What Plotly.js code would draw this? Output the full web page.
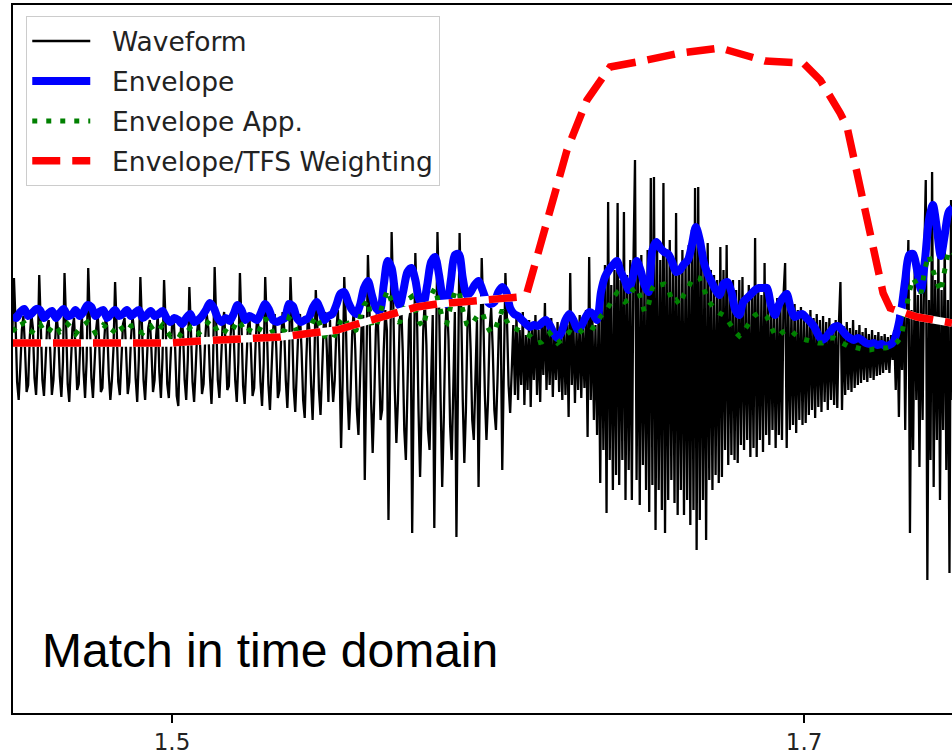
<!DOCTYPE html>
<html><head><meta charset="utf-8">
<script src="https://cdn.plot.ly/plotly-3.0.1.min.js"></script>
<style>html,body{margin:0;padding:0;background:#fff;} #chart{width:952px;height:756px;}</style>
</head><body><div id="chart"></div>
<script>
// sampled signals: start time (s) and sample intervals (s)
const T_START = 1.4495;
const WAVE_DT = 0.0005;
const ENV_DT = 0.00125;

// Waveform amplitude (arbitrary units)
const waveform = [
10,
62,18,-42,-60,-28,10,24,-8,-52,-45,2,26,12,-38,-55,-18,
65,14,-40,-56,-22,14,20,-12,-55,-40,-2,24,8,-36,-57,-22,
67,16,-44,-62,-25,12,22,-10,-50,-44,0,25,-30,-58,-20,
72,20,-38,-58,-24,10,26,-6,-52,-48,-4,22,14,-34,-60,-40,-8,
58,12,-42,-55,-20,16,22,-12,-54,-42,0,24,10,-38,-62,-20,
63,15,-40,-60,-26,12,20,-10,-52,-40,4,26,-32,-58,-18,
60,16,-44,-58,-22,14,24,-8,-56,-66,-10,22,8,-40,-60,-20,
53,10,-42,-62,-28,10,22,-12,-54,-44,0,26,12,-36,-64,-24,
73,18,-40,-58,-24,14,28,-6,-50,-46,2,24,10,-40,-62,-22,
67,14,-46,-64,-26,12,24,-10,-56,-48,0,25,8,-42,-66,-24,
63,16,-44,-70,-30,10,26,-8,-58,-50,-2,28,12,-40,-68,-26,
63,18,-48,-72,-30,12,26,-10,-60,-78,-20,24,10,-44,-80,-30,
50,14,-50,-75,-32,14,28,-10,-62,
20,-30,-62,-40,10,30,-20,-108,-40,63,
20,-50,-90,-55,5,30,-10,-70,-95,-40,
15,25,-140,-30,85,30,-60,-113,-60,10,
35,-20,-80,-70,-10,30,10,-180,-40,108,
40,-50,-103,-60,15,38,-10,-90,-120,-50,
20,30,-193,-40,87,30,-70,-137,-70,10,
40,-5,-90,-110,-40,25,-188,-30,108,40,
-60,-147,-80,10,42,0,-85,-120,-50,28,
-197,-40,107,35,-60,-123,-70,15,38,-10,
-80,-100,-40,20,-147,-30,82,25,-55,-100,
-60,10,32,-10,-70,-90,-40,20,25,-130,
-30,67,20,-45,-73,
-30,15,-55,25,-60,10,-45,28,-65,5,
-50,20,-67,15,-40,25,-55,10,-62,20,
-35,37,-50,15,-45,22,-57,8,-40,18,
-52,12,-60,20,
-55,15,-77,67,-45,20,-63,10,-50,25,
-58,12,-48,30,-97,83,-60,28,-80,15,
-95,35,
-143,60,-110,75,-173,138,-120,55,-150,70,
-135,137,-145,60,-120,128,-160,65,-130,80,
-160,75,180,-140,70,-165,85,-125,60,-150,
90,-172,162,-145,163,-190,95,-150,80,-170,
157,-193,85,-160,100,-140,75,-163,127,-175,
70,-150,90,-175,80,-160,95,-185,110,-170,
152,-210,153,-180,100,-160,85,-200,97,-140,
70,-150,65,-135,60,-143,93,
-137,70,-110,95,-125,55,-115,60,-120,50,
-123,60,-105,63,-110,45,-100,55,-117,48,
-108,102,-117,50,-100,45,-112,77,-95,40,
-105,45,-90,35,-108,42,-95,38,-100,45,
77,-108,40,-90,32,-85,36,-93,30,-80,
33,-85,28,-83,25,-75,30,-70,22,-78,
26,-67,20,-72,24,-62,18,-70,22,-60,
16,-65,20,-68,15,58,-70,14,-55,18,
-50,12,-52,20,-48,10,-45,15,-43,8,
-40,12,-42,6,-38,10,-40,5,-36,8,
-35,4,-33,6,-30,3,-33,5,
-20,10,-50,25,-77,30,-30,60,-90,40,
100,-193,30,-110,70,-60,45,-127,50,-80,
80,160,-240,40,-120,168,-147,60,-100,90,
-160,50,-90,100,-130,40,-233,140,-60
];

// Envelope
const envelope = [
25,22,28,31,24,27,31,30,22,26,
29,22,27,31,24,25,30,24,28,35,
33,24,28,30,22,26,30,24,26,30,
24,27,30,22,25,29,24,26,29,22,
18,22,20,16,22,26,18,20,24,30,
37,32,22,18,22,19,26,35,30,20,
24,22,20,28,36,30,20,18,20,22,
36,34,22,18,20,22,32,38,30,20,
24,
26,35,46,48,38,30,26,35,52,59,
45,32,29,55,79,72,45,34,50,68,
72,60,40,36,55,78,83,65,42,36,
60,85,86,62,45,48,55,59,50,40,
36,38,48,53,48,32,
26,24,20,16,13,15,14,17,20,15,7,2,8,20,26,20,11,14,22,28,26,20,
48,63,70,75,79,68,60,50,62,79,
70,55,48,90,98,92,88,86,78,68,
70,76,80,95,113,100,78,66,58,50,
45,
56,58,48,30,25,38,42,46,50,52,
52,52,35,25,35,42,46,32,23,25,
26,22,18,13,5,0,3,8,13,14,
10,5,2,0,2,0,-3,-4,-3,-5,
-4,-6,-5,
-2,10,30,60,85,86,70,50,80,120,135,112,84,105,128,132
];

// Envelope approximation
const envelopeApp = [
12,8,15,17,10,8,14,16,9,7,
13,15,8,10,16,12,6,11,15,18,
14,7,10,15,12,6,11,16,10,8,
14,15,9,7,12,14,8,10,15,9,
4,8,6,3,7,12,5,6,10,15,
20,16,8,5,9,6,12,20,15,7,
10,8,6,14,22,16,7,5,8,10,
22,18,8,4,6,9,18,24,14,4,
2,
0,8,18,23,15,8,10,22,35,40,
14,12,25,40,50,38,22,17,28,40,
43,30,18,13,30,45,52,35,20,17,
35,48,50,30,16,14,20,26,27,15,
8,8,20,30,20,13,
12,10,8,7,4,0,-3,-2,2,7,2,-3,0,5,8,6,5,9,12,14,12,18,
24,28,34,42,47,42,38,40,50,53,
43,28,35,52,57,55,56,52,38,40,
35,46,52,60,63,62,52,40,35,30,
27,
25,20,14,8,4,8,14,20,25,27,
26,23,14,5,4,8,10,10,6,3,
1,0,-1,-2,-3,-3,0,2,2,0,
-3,-5,-7,-7,-8,-9,-10,-10,-9,-9,
-8,-8,-7,
-5,-2,3,25,48,62,55,47,72,85,70,58,48,70,90,87
];

// Envelope/TFS weighting (time in s, value)
const weightTime = [1.4497,1.4994,1.5089,1.5215,1.5342,1.5443,1.5522,1.5576,1.5658,1.5703,
  1.5775,1.5839,1.5924,1.6060,1.6101,1.6123,1.6250,1.6313,1.6386,1.6472,
  1.6608,1.6734,1.6877,1.6997,1.7051,1.7114,1.7136,1.7250,1.7272,1.7358,1.7468];
const weightValue = [-3,-3,-1,1,3,7,10,15,22,27,
  33,36,38,41,43,47,190,240,273,278,
  287,292,279,277,260,227,213,47,32,23,17];

const seriesNames = ['Waveform', 'Envelope', 'Envelope App.', 'Envelope/TFS Weighting'];
const tickVals = [1.5, 1.7];
const tickText = ['1.5', '1.7'];
const noteText = 'Match in time domain';

const waveTime = waveform.map((_, i) => T_START + i * WAVE_DT);
const envTime = envelope.map((_, i) => T_START + i * ENV_DT);
const pad = s => '\u00a0\u00a0' + s;   // gap between legend sample and its label

const traces = [
  {x: waveTime, y: waveform, type: 'scatter', mode: 'lines', name: pad(seriesNames[0]),
   line: {color: '#000000', width: 2.3, simplify: false}, legendgroup: 'a'},
  {x: envTime, y: envelope, type: 'scatter', mode: 'lines', name: pad(seriesNames[1]),
   line: {color: '#0000ff', width: 8, shape: 'spline', smoothing: 0.8, simplify: false}, legendgroup: 'b'},
  {x: envTime, y: envelopeApp, type: 'scatter', mode: 'lines', name: pad(seriesNames[2]),
   line: {color: '#008000', width: 5, dash: '5px,9px', simplify: false}, legendgroup: 'c'},
  {x: weightTime, y: weightValue, type: 'scatter', mode: 'lines', showlegend: false, hoverinfo: 'skip',
   line: {color: '#ffffff', width: 7.5}, legendgroup: 'd'},
  {x: weightTime, y: weightValue, type: 'scatter', mode: 'lines', name: pad(seriesNames[3]),
   line: {color: '#ff0000', width: 7.5, dash: '28px,12px'}, legendgroup: 'd'}
];

const layout = {
  width: 952, height: 756,
  margin: {l: 13, r: 0, t: 5, b: 43, pad: 0},
  paper_bgcolor: '#ffffff', plot_bgcolor: '#ffffff',
  showlegend: true,
  xaxis: {range: [1.4497, 1.7468], tickmode: 'array', tickvals: tickVals, ticktext: tickText,
    ticks: 'outside', ticklen: 8, tickwidth: 1.5, tickcolor: '#000',
    showline: true, linecolor: '#000', linewidth: 1.6, mirror: true,
    showgrid: false, zeroline: false,
    tickfont: {family: 'DejaVu Sans', size: 23, color: '#222'}},
  yaxis: {range: [-373, 335], showline: true, linecolor: '#000', linewidth: 1.6,
    showgrid: false, zeroline: false, showticklabels: false, ticks: ''},
  legend: {x: 0.0138, y: 0.9845, xanchor: 'left', yanchor: 'top',
    bgcolor: 'rgba(255,255,255,0.85)', bordercolor: '#cccccc', borderwidth: 1.3,
    font: {family: 'DejaVu Sans', size: 26.5, color: '#222'},
    itemwidth: 58, tracegroupgap: 2.5, traceorder: 'grouped'},
  annotations: [{text: noteText, xref: 'paper', yref: 'paper', x: 0.0288, y: 0.0876,
    xanchor: 'left', yanchor: 'middle', showarrow: false,
    font: {family: 'Liberation Sans, Arial, sans-serif', size: 48, color: '#000'}}]
};

Plotly.newPlot('chart', traces, layout, {displayModeBar: false, staticPlot: true});
</script>
</body></html>
